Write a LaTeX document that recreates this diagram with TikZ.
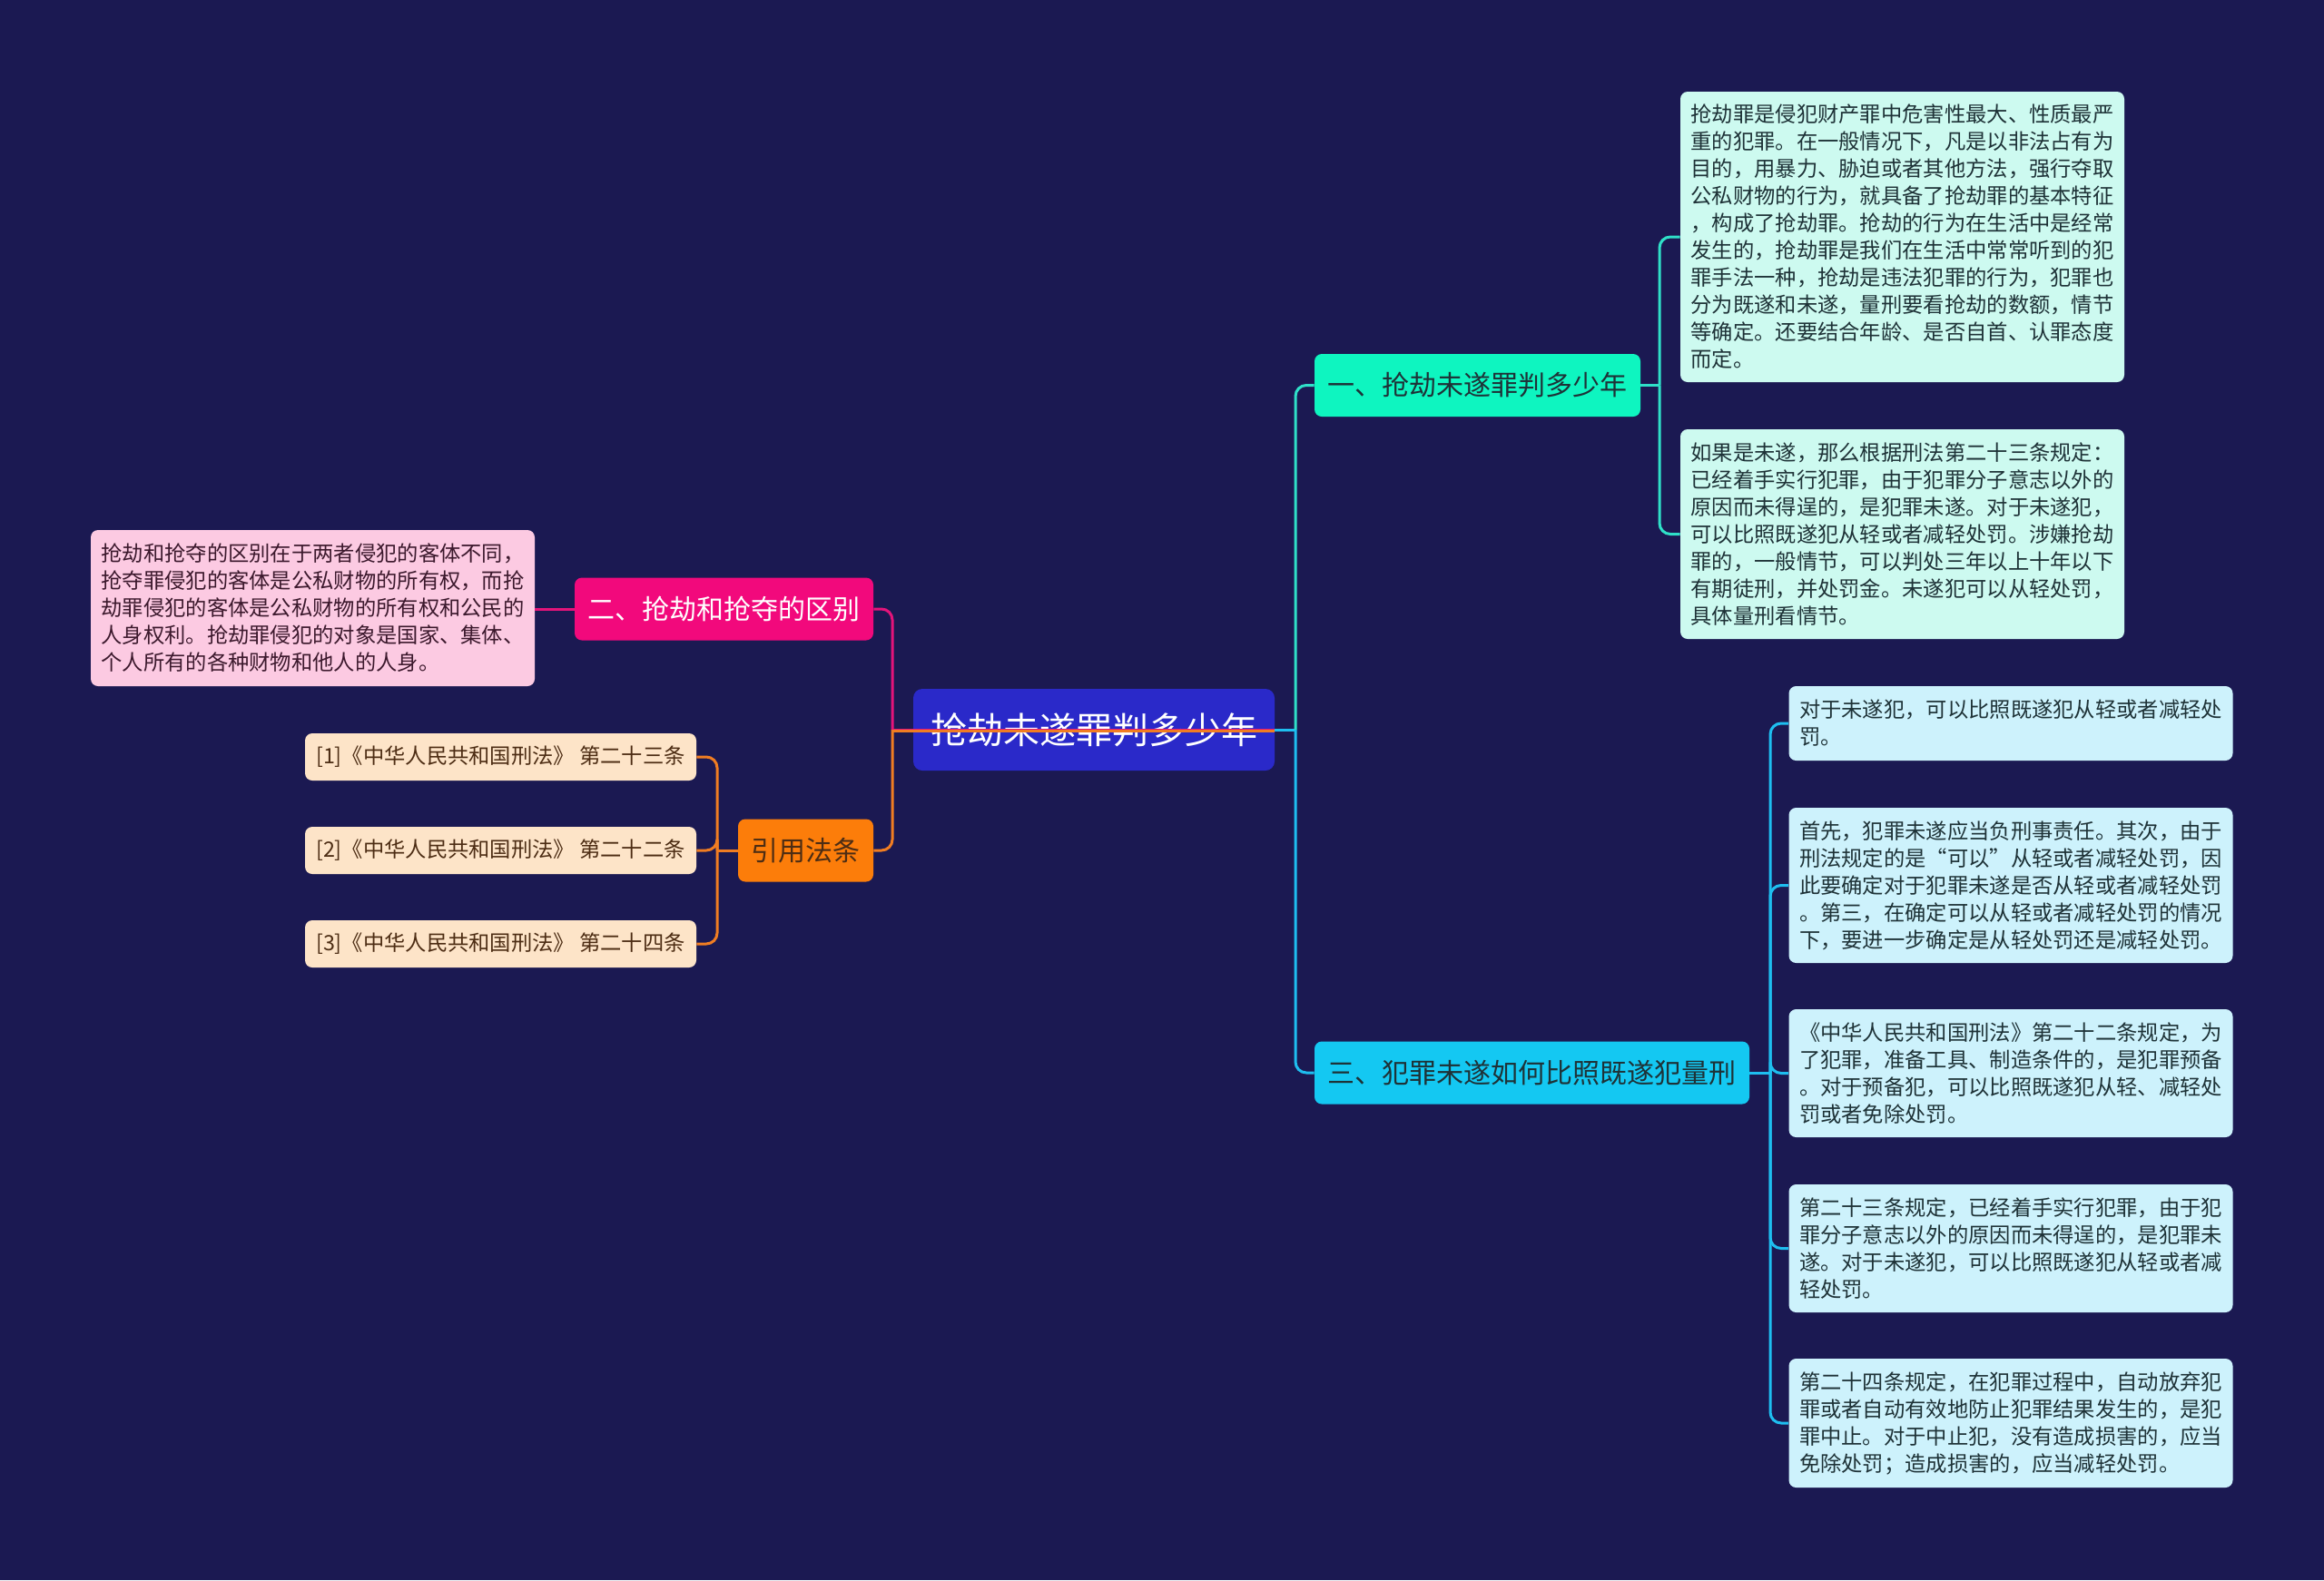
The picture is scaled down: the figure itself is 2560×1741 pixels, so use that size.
\documentclass[tikz,border=0pt]{standalone}
\usepackage{fontspec}
\setmainfont{Noto Sans CJK SC}
\definecolor{bgnavy}{RGB}{27,25,82}
\definecolor{rootblue}{RGB}{42,41,201}
\definecolor{mintbr}{RGB}{14,245,192}
\definecolor{skybr}{RGB}{20,200,242}
\definecolor{pinkbr}{RGB}{242,9,124}
\definecolor{orangebr}{RGB}{252,125,10}
\definecolor{mintleaf}{RGB}{205,250,240}
\definecolor{skyleaf}{RGB}{205,242,252}
\definecolor{pinkleaf}{RGB}{252,202,226}
\definecolor{orangeleaf}{RGB}{253,228,200}
\definecolor{tealln}{RGB}{47,224,200}
\definecolor{skyln}{RGB}{30,190,240}
\definecolor{pinkln}{RGB}{228,20,122}
\definecolor{orangeln}{RGB}{240,125,34}
\definecolor{darktxt}{RGB}{30,50,55}
\definecolor{browntxt}{RGB}{77,45,20}
\definecolor{plumtxt}{RGB}{60,25,45}

\begin{document}
\begin{tikzpicture}[x=0.5pt,y=-0.5pt,
  nodebox/.style={rounded corners=4pt,inner sep=0pt,align=center},
  rootbox/.style={nodebox,fill=rootblue,text=white,rounded corners=5pt,
    minimum width=199pt,minimum height=45pt,font=\fontsize{20pt}{24pt}\selectfont},
  branchbox/.style={nodebox,minimum height=34.5pt,font=\fontsize{15pt}{18pt}\selectfont},
  leafbox/.style={rounded corners=4pt,inner xsep=5.75pt,inner ysep=0pt,text width=233pt,
    align=left,font=\fontsize{11.65pt}{15pt}\selectfont},
  citebox/.style={nodebox,fill=orangeleaf,text=browntxt,minimum width=215.5pt,
    minimum height=26pt,font=\fontsize{11.65pt}{14pt}\selectfont},
  linkline/.style={line width=1.5pt,rounded corners=6pt}]

  \useasboundingbox (0,0) rectangle (2560,1741);
  \fill[bgnavy] (0,0) rectangle (2560,1741);

  % root and main branches
  \node[rootbox] (root) at (1205,804) {抢劫未遂罪判多少年};
  \node[branchbox,fill=mintbr,text=darktxt,minimum width=179.5pt] (b1) at (1627.5,424.5)
    {一、抢劫未遂罪判多少年};
  \node[branchbox,fill=skybr,text=darktxt,minimum width=239.5pt] (b3) at (1687.5,1182)
    {三、犯罪未遂如何比照既遂犯量刑};
  \node[branchbox,fill=pinkbr,text=white,minimum width=164.5pt] (b2) at (797.5,671)
    {二、抢劫和抢夺的区别};
  \node[branchbox,fill=orangebr,text=browntxt,minimum width=74.5pt] (laws) at (887.5,937)
    {引用法条};

  % leaves of branch one
  \node[leafbox,fill=mintleaf,text=darktxt,minimum height=160pt] (a1) at (2095.5,261)
    {抢劫罪是侵犯财产罪中危害性最大、性质最严\\重的犯罪。在一般情况下，凡是以非法占有为\\
     目的，用暴力、胁迫或者其他方法，强行夺取\\公私财物的行为，就具备了抢劫罪的基本特征\\
     ，构成了抢劫罪。抢劫的行为在生活中是经常\\发生的，抢劫罪是我们在生活中常常听到的犯\\
     罪手法一种，抢劫是违法犯罪的行为，犯罪也\\分为既遂和未遂，量刑要看抢劫的数额，情节\\
     等确定。还要结合年龄、是否自首、认罪态度\\而定。};
  \node[leafbox,fill=mintleaf,text=darktxt,minimum height=115.5pt] (a2) at (2095.5,588.5)
    {如果是未遂，那么根据刑法第二十三条规定：\\已经着手实行犯罪，由于犯罪分子意志以外的\\
     原因而未得逞的，是犯罪未遂。对于未遂犯，\\可以比照既遂犯从轻或者减轻处罚。涉嫌抢劫\\
     罪的，一般情节，可以判处三年以上十年以下\\有期徒刑，并处罚金。未遂犯可以从轻处罚，\\
     具体量刑看情节。};

  % leaves of branch three
  \node[leafbox,fill=skyleaf,text=darktxt,minimum height=41pt] (t1) at (2215,797)
    {对于未遂犯，可以比照既遂犯从轻或者减轻处\\罚。};
  \node[leafbox,fill=skyleaf,text=darktxt,minimum height=85.5pt] (t2) at (2215,975.5)
    {首先，犯罪未遂应当负刑事责任。其次，由于\\刑法规定的是“可以”从轻或者减轻处罚，因\\
     此要确定对于犯罪未遂是否从轻或者减轻处罚\\。第三，在确定可以从轻或者减轻处罚的情况\\
     下，要进一步确定是从轻处罚还是减轻处罚。};
  \node[leafbox,fill=skyleaf,text=darktxt,minimum height=70.5pt] (t3) at (2215,1182.5)
    {《中华人民共和国刑法》第二十二条规定，为\\了犯罪，准备工具、制造条件的，是犯罪预备\\
     。对于预备犯，可以比照既遂犯从轻、减轻处\\罚或者免除处罚。};
  \node[leafbox,fill=skyleaf,text=darktxt,minimum height=70.5pt] (t4) at (2215,1375.5)
    {第二十三条规定，已经着手实行犯罪，由于犯\\罪分子意志以外的原因而未得逞的，是犯罪未\\
     遂。对于未遂犯，可以比照既遂犯从轻或者减\\轻处罚。};
  \node[leafbox,fill=skyleaf,text=darktxt,minimum height=71pt] (t5) at (2215,1568)
    {第二十四条规定，在犯罪过程中，自动放弃犯\\罪或者自动有效地防止犯罪结果发生的，是犯\\
     罪中止。对于中止犯，没有造成损害的，应当\\免除处罚；造成损害的，应当减轻处罚。};

  % left side leaves
  \node[leafbox,fill=pinkleaf,text=plumtxt,minimum height=86pt] (diff) at (344.5,670)
    {抢劫和抢夺的区别在于两者侵犯的客体不同，\\抢夺罪侵犯的客体是公私财物的所有权，而抢\\
     劫罪侵犯的客体是公私财物的所有权和公民的\\人身权利。抢劫罪侵犯的对象是国家、集体、\\
     个人所有的各种财物和他人的人身。};
  \foreach \i/\k/\y in {1/三/834,2/二/937,3/四/1040}
    \node[citebox] (c\i) at (551.5,\y) {[\i]《中华人民共和国刑法》 第二十{\k}条};

  % connectors
  \coordinate (jl) at (983,804);
  \coordinate (jr) at (1427,804);
  \coordinate (j1) at (1828,424.5);
  \coordinate (j3) at (1950,1182);
  \coordinate (jc) at (790,937);

  \draw[linkline,pinkln] (jl) |- (b2.east);
  \draw[linkline,orangeln] (jl) |- (laws.east);
  \draw[line width=1.5pt,pinkln] (root.east) -- (jl);
  \draw[line width=1.5pt,orangeln] ([yshift=-0.5pt]root.east) -- ([yshift=-0.5pt]jl);
  \draw[line width=1.5pt,skyln] (root.east) -- (jr);
  \draw[linkline,tealln] (jr) |- (b1.west);
  \draw[linkline,skyln] (jr) |- (b3.west);

  \draw[line width=1.5pt,tealln] (b1.east) -- (j1);
  \foreach \a in {a1,a2}
    \draw[linkline,tealln] (j1) |- (\a.west);
  \draw[line width=1.5pt,skyln] (b3.east) -- (j3);
  \foreach \a in {t1,t2,t3,t4,t5}
    \draw[linkline,skyln] (j3) |- (\a.west);

  \draw[line width=1.5pt,pinkln] (b2.west) -- (b2.west -| diff.east);
  \draw[line width=1.5pt,orangeln] (laws.west) -- (jc);
  \foreach \i in {1,2,3}
    \draw[linkline,orangeln] (jc) |- (c\i.east);
\end{tikzpicture}
\end{document}
